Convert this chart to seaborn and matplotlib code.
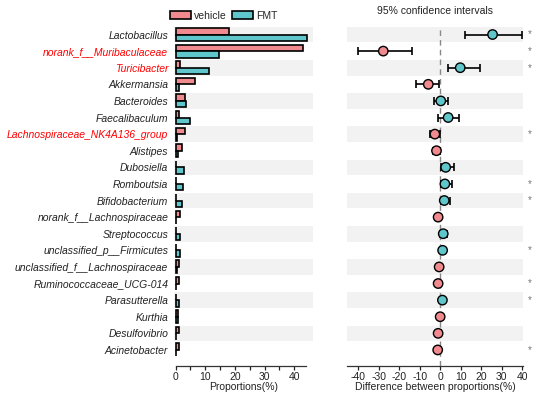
import numpy as np
import pandas as pd
import matplotlib
matplotlib.use("Agg")
import matplotlib.pyplot as plt
import seaborn as sns

taxa = ["Lactobacillus", "norank_f__Muribaculaceae", "Turicibacter", "Akkermansia",
        "Bacteroides", "Faecalibaculum", "Lachnospiraceae_NK4A136_group", "Alistipes",
        "Dubosiella", "Romboutsia", "Bifidobacterium", "norank_f__Lachnospiraceae",
        "Streptococcus", "unclassified_p__Firmicutes", "unclassified_f__Lachnospiraceae",
        "Ruminococcaceae_UCG-014", "Parasutterella", "Kurthia", "Desulfovibrio", "Acinetobacter"]
vehicle = [18.0, 42.8, 1.5, 6.6, 3.1, 1.0, 3.1, 2.3, 0.3, 0.3, 0.3, 1.6, 0.2, 0.2, 1.2,
           1.3, 0.2, 0.8, 1.2, 1.2]
fmt = [44.2, 14.6, 11.3, 1.1, 3.4, 4.8, 0.5, 0.7, 2.9, 2.4, 2.2, 0.3, 1.6, 1.6, 0.4,
       0.2, 1.3, 0.8, 0.3, 0.05]
diff = [25.6, -27.8, 9.8, -5.8, 0.3, 3.9, -2.6, -1.8, 2.7, 2.3, 2.0, -1.0, 1.5, 1.2,
        -0.5, -1.0, 1.1, 0.0, -1.0, -1.2]
ci_low = [12.3, -40.1, 3.6, -11.7, -2.9, -1.0, -4.8, -3.4, 0.6, 0.6, 0.5, -2.0, 0.1, 0.5,
          -1.5, -2.0, 0.3, -1.0, -2.1, -2.4]
ci_high = [39.8, -13.7, 19.3, -0.8, 3.6, 9.0, -0.3, -0.1, 6.8, 5.8, 4.6, 0.1, 3.2, 1.9,
           0.3, -0.2, 2.0, 1.0, 0.2, -0.2]
significant = [True, True, True, False, False, False, True, False, False, True, True, False,
               False, True, False, True, True, False, False, True]
red_labels = ["norank_f__Muribaculaceae", "Turicibacter", "Lachnospiraceae_NK4A136_group"]
groups = ["vehicle", "FMT"]
xticks_left = [0, 10, 20, 30, 40]
xticks_right = [-40, -30, -20, -10, 0, 10, 20, 30, 40]

c_veh = "#F08A8F"
c_fmt = "#5FC6CB"

sns.set_theme(style="white")
plt.rcParams["font.family"] = ["Liberation Sans", "DejaVu Sans"]
plt.rcParams["axes.unicode_minus"] = False

fig = plt.figure(figsize=(5.5, 3.97), dpi=100)
axL = fig.add_axes([0.316, 0.078, 0.253, 0.856])
axR = fig.add_axes([0.631, 0.078, 0.320, 0.856])

n = len(taxa)
for ax in (axL, axR):
    for i in range(0, n, 2):
        ax.axhspan(i - 0.47, i + 0.47, color="#F2F2F2", zorder=0, lw=0)

df = pd.DataFrame({
    "taxon": taxa * 2,
    "group": ["vehicle"] * n + ["FMT"] * n,
    "value": vehicle + fmt,
})
sns.barplot(data=df, y="taxon", x="value", hue="group", order=taxa, hue_order=groups,
            palette=[c_veh, c_fmt], saturation=1, orient="h", width=0.78,
            edgecolor="black", linewidth=1.2, ax=axL, zorder=2)
axL.set_xlim(-0.6, 46.3)
axL.set_ylim(19.97, -0.5)
axL.set_ylabel("")
axL.set_xlabel("Proportions(%)", fontsize=7.5, labelpad=0, color="#222222")
axL.set_xticks(xticks_left)
axL.set_xticks([5, 15, 25, 35], minor=True)
axL.tick_params(axis="x", which="both", bottom=True, length=3, width=0.9, direction="out",
                labelsize=7.5, pad=1, colors="#222222")
axL.tick_params(axis="y", length=0, labelsize=7.5, pad=4)
for lab in axL.get_yticklabels():
    lab.set_fontstyle("italic")
    lab.set_color("red" if lab.get_text() in red_labels else "#222222")
for s in ["top", "right", "left"]:
    axL.spines[s].set_visible(False)
axL.spines["bottom"].set_bounds(0, 44)
axL.spines["bottom"].set_color("#333333")
axL.spines["bottom"].set_linewidth(0.9)
leg = axL.legend(loc="lower center", bbox_to_anchor=(0.36, 1.0), ncol=2, frameon=False,
                 fontsize=7.5, handlelength=2.0, handleheight=0.8, columnspacing=0.5,
                 handletextpad=0.3, borderaxespad=0.1)
for h in leg.legend_handles:
    h.set_edgecolor("black")
    h.set_linewidth(1.2)

# Right panel
ypos = np.arange(n)
cols = [c_fmt if d > 0 else c_veh for d in diff]
axR.axvline(0, color="#888888", ls=(0, (4, 3)), lw=1.0, zorder=1)
d = np.array(diff)
err = np.vstack([d - np.array(ci_low), np.array(ci_high) - d])
axR.errorbar(d, ypos, xerr=err, fmt="none", ecolor="black", elinewidth=1.2,
             capsize=3, capthick=1.2, zorder=2)
pdf = pd.DataFrame({"diff": diff, "y": ypos, "col": cols})
sns.scatterplot(data=pdf, x="diff", y="y", hue="col", palette={c_fmt: c_fmt, c_veh: c_veh},
                s=46, edgecolor="black", linewidth=1.0, legend=False, ax=axR, zorder=3)
axR.set_xlim(-45.5, 40.5)
axR.set_ylim(19.97, -0.5)
axR.set_yticks([])
axR.set_ylabel("")
axR.set_xticks(xticks_right)
axR.set_xlabel("Difference between proportions(%)", fontsize=7.5, labelpad=0, color="#222222")
axR.tick_params(axis="x", bottom=True, length=3, width=0.9, direction="out",
                labelsize=7.5, pad=1, colors="#222222")
for s in ["top", "right", "left"]:
    axR.spines[s].set_visible(False)
axR.spines["bottom"].set_color("#333333")
axR.spines["bottom"].set_linewidth(0.9)
axR.set_title("95% confidence intervals", fontsize=7.5, pad=9, color="#222222")
for i, sig in enumerate(significant):
    if sig:
        axR.text(1.04, i, "*", transform=axR.get_yaxis_transform(), ha="center",
                 va="center", fontsize=7, color="#777777")

fig.savefig("out.png", dpi=100)
